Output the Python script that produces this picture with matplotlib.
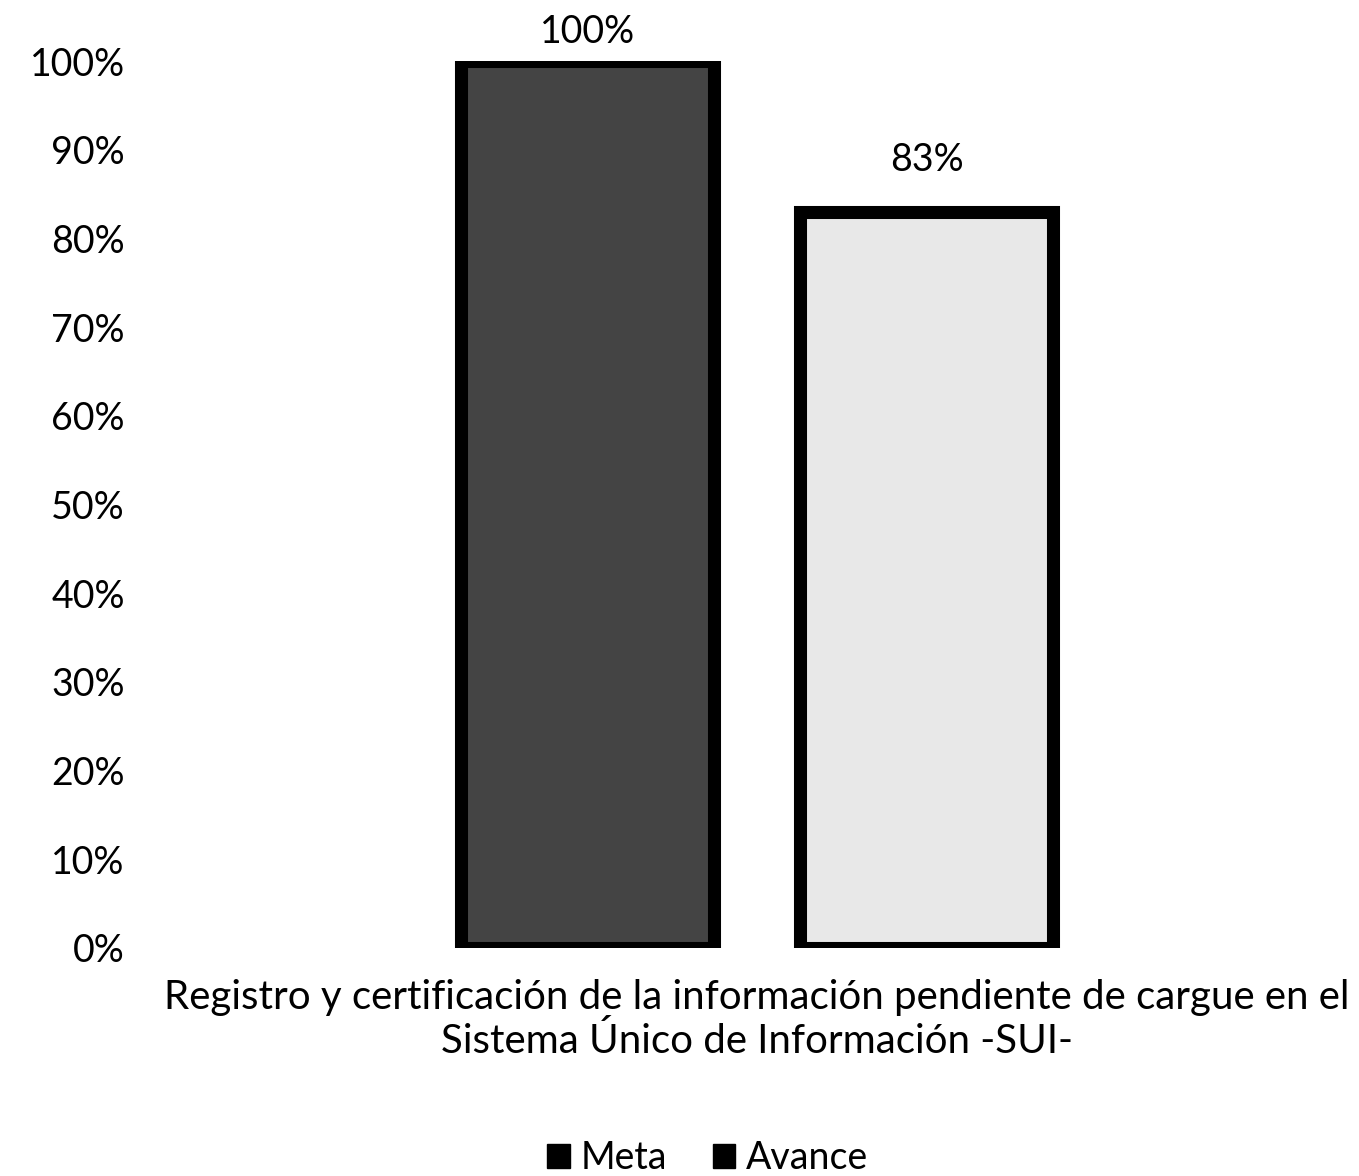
import matplotlib
matplotlib.use("Agg")
import matplotlib.pyplot as plt
from matplotlib.patches import Patch

categories = ["Registro y certificación de la información pendiente de cargue en el\nSistema Único de Información -SUI-"]
series_names = ["Meta", "Avance"]
meta = [1.00]
avance = [0.83]
value_labels_meta = ["100%"]
value_labels_avance = ["83%"]
yticks = [0, 0.1, 0.2, 0.3, 0.4, 0.5, 0.6, 0.7, 0.8, 0.9, 1.0]
ytick_labels = ["0%", "10%", "20%", "30%", "40%", "50%", "60%", "70%", "80%", "90%", "100%"]

plt.rcParams['font.family'] = ['Lato', 'DejaVu Sans']

W, H = 1359, 1176
fig = plt.figure(figsize=(W/100, H/100), dpi=100)
y0, y1 = 948, 61
x0 = 140
ax = fig.add_axes([x0/W, (H-y0)/H, (W-x0)/W, (y0-y1)/H])

unit = 253.0
off = 169.5/unit
ax.bar([-off], meta, width=1.0, color='#444444', edgecolor='black', linewidth=9.4)
ax.bar([off], avance, width=1.0, color='#e8e8e8', edgecolor='black', linewidth=9.4)

ax.text(-off, meta[0] + 0.012, value_labels_meta[0], ha='center', va='bottom', fontsize=27)
ax.text(off, avance[0] + 0.038, value_labels_avance[0], ha='center', va='bottom', fontsize=27)

ax.set_xlim(-(757-x0)/unit, (W-757)/unit)
ax.set_ylim(0, 1.0)
ax.set_yticks(yticks)
ax.set_yticklabels(ytick_labels, fontsize=27)
ax.set_xticks([0])
ax.set_xticklabels(categories, fontsize=29, linespacing=1.2)
ax.tick_params(axis='y', length=0, pad=11)
ax.tick_params(axis='x', length=0, pad=22)
for s in ax.spines.values():
    s.set_visible(False)

handles = [Patch(facecolor='black', edgecolor='black', label=series_names[0]),
           Patch(facecolor='black', edgecolor='black', label=series_names[1])]
fig.legend(handles=handles, loc='center', bbox_to_anchor=(708/W, 1-1158/H), ncol=2,
           frameon=False, fontsize=27, handlelength=0.6, handleheight=0.6, handletextpad=0.3,
           columnspacing=1.2)

fig.savefig("out.png", dpi=100)
